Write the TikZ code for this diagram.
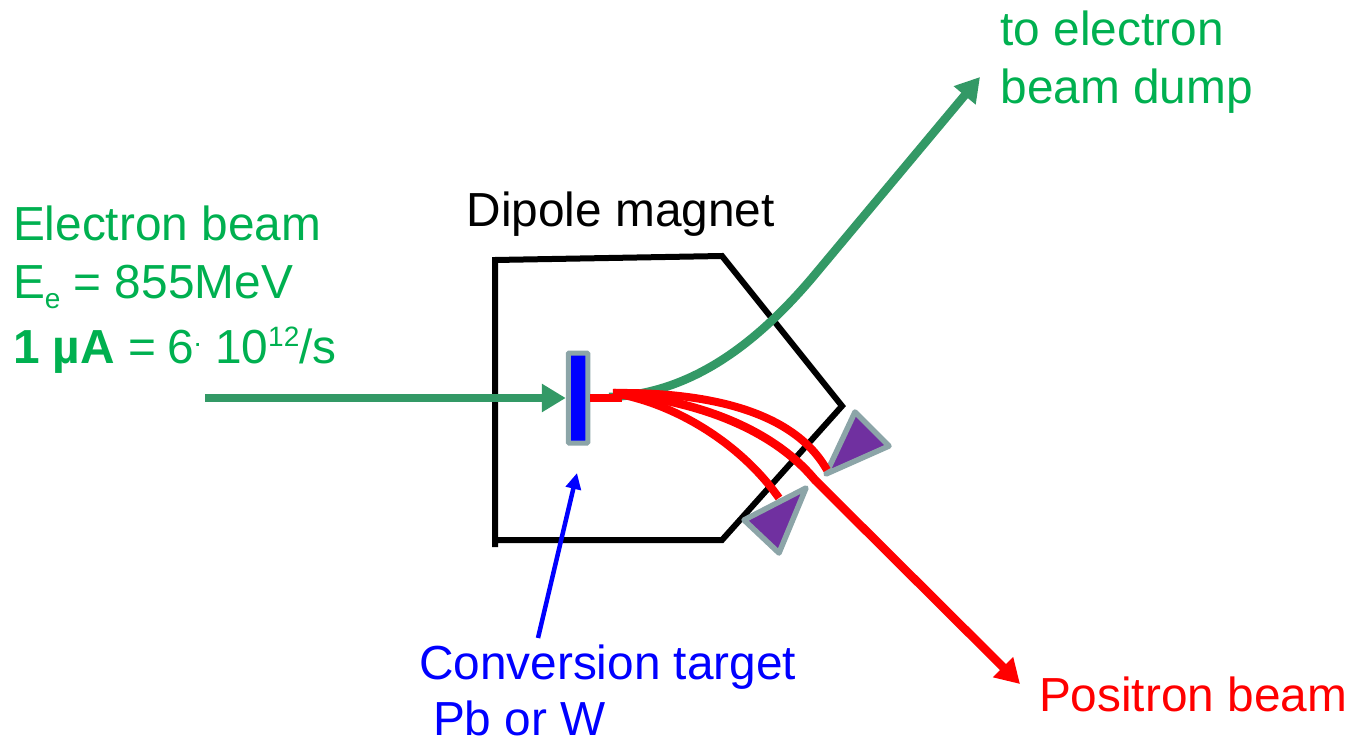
\documentclass[tikz,border=0pt]{standalone}
\usepackage{fontspec}
\setmainfont{Liberation Sans}
\usetikzlibrary{arrows.meta}
\definecolor{txtgreen}{HTML}{00B050}
\definecolor{beamgreen}{HTML}{339966}
\definecolor{edgegray}{HTML}{8CA5A8}
\definecolor{detpurple}{HTML}{7030A0}
\newcommand{\smallsup}[1]{\raisebox{17pt}{\fontsize{28}{28}\selectfont #1}}
\newcommand{\smallsub}[1]{\raisebox{-10pt}{\fontsize{28}{28}\selectfont #1}}
\tikzset{
  x=1pt,y=-1pt,
  label text/.style={anchor=base west,inner sep=0pt,outer sep=0pt,font=\fontsize{47.8}{57}\selectfont},
  beam green/.style={draw=beamgreen,line width=8.5pt},
  beam red/.style={draw=red,line width=8pt},
  wall/.style={draw=black,line width=6pt,line join=miter},
  detector/.style={draw=edgegray,fill=detpurple,line width=5.5pt,line join=round},
  head/.style={-{Triangle[length=24pt,width=27pt]}}
}
\begin{document}
\begin{tikzpicture}
\useasboundingbox (0,0) rectangle (1351,738);
% magnet
\coordinate (m1) at (495,547);
\coordinate (m2) at (495,260);
\coordinate (m3) at (722,256);
\coordinate (m4) at (842,406);
\coordinate (m5) at (722,540);
\coordinate (m6) at (495,540);
\draw[wall] (m1) -- (m2) -- (m3) -- (m4) -- (m5) -- (m6);
% target
\node[draw=edgegray,fill=blue,line width=5pt,rounded corners=1pt,minimum width=19.5pt,minimum height=90pt,inner sep=0pt] (target) at (578,398) {};
% beams
\coordinate (ein) at (205,398);
\draw[beam green,head] (ein) -- (target.west);
\coordinate (g0) at (609,397);
\coordinate (gout) at (980,77);
\draw[beam green,head] (g0) .. controls (690,394) and (755,345) .. (812,278) -- (gout);
\coordinate (r0) at (613,393);
\draw[beam red] (target.east) -- (622,398);
% detectors
\coordinate (d1a) at (855,412);
\coordinate (d1b) at (889,446);
\coordinate (d1c) at (826,474);
\coordinate (d2a) at (806,488);
\coordinate (d2b) at (744,520);
\coordinate (d2c) at (779,553);
\draw[detector] (d1a) -- (d1b) -- (d1c) -- cycle;
\draw[detector] (d2a) -- (d2b) -- (d2c) -- cycle;
% red curves
\coordinate (rend) at (1020,684);
\draw[beam red] (r0) .. controls (700,392) and (792,408) .. (827,470);
\draw[beam red,line width=8.5pt,head] (r0) .. controls (695,400) and (772,428) .. (815,480) -- (rend);
\draw[beam red] (r0) .. controls (670,402) and (738,440) .. (779,498);
% blue pointer
\coordinate (pfrom) at (538,638);
\coordinate (pto) at (577,473);
\draw[blue,line width=4.5pt,-{Triangle[length=16pt,width=15pt]}] (pfrom) -- (pto);
% labels
\node[label text,text=black] (dipole) at (466.5,226) {Dipole magnet};
\node[label text,text=txtgreen] (l1) at (13,240) {Electron beam};
\node[label text,text=txtgreen] (l2) at (13,298) {E\smallsub{e} = 855MeV};
\node[label text,text=txtgreen] (l3) at (13,363) {\textbf{1 µA} = \hspace{-2pt}6\smallsup{.} 10\smallsup{12}/s};
\node[label text,text=txtgreen] (d1) at (1000.5,46) {to electron};
\node[label text,text=txtgreen] (d2) at (1000.5,104) {beam dump};
\node[label text,text=blue] (c1) at (419,679) {Conversion target};
\node[label text,text=blue] (c2) at (433,735) {Pb or W};
\node[label text,text=red] (pos) at (1039,711) {Positron beam};
\end{tikzpicture}
\end{document}
